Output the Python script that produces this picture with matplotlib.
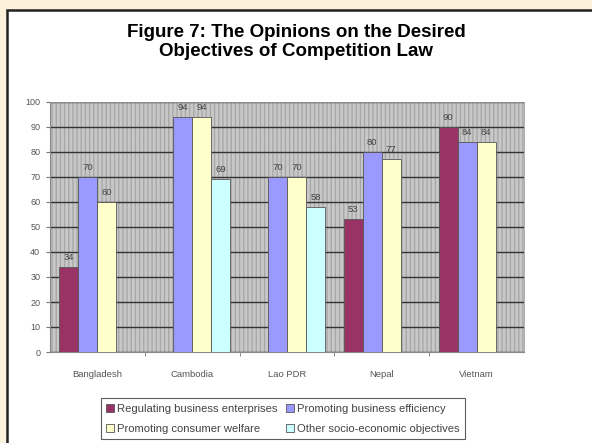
import matplotlib.pyplot as plt
import matplotlib.patches as mpatches
import numpy as np

plt.rcParams['font.family'] = ['Liberation Sans', 'DejaVu Sans']

countries = ['Bangladesh', 'Cambodia', 'Lao PDR', 'Nepal', 'Vietnam']
series_names = ['Regulating business enterprises', 'Promoting business efficiency',
                'Promoting consumer welfare', 'Other socio-economic objectives']
regulating = [34, None, None, 53, 90]
efficiency = [70, 94, 70, 80, 84]
welfare = [60, 94, 70, 77, 84]
other = [None, 69, 58, None, None]
colors = ['#993366', '#9999FF', '#FFFFCC', '#CCFFFF']

fig = plt.figure(figsize=(5.92, 4.43), dpi=100)
fig.patch.set_facecolor('#FEF1DC')

# white panel with dark border on top and left
panel = mpatches.Rectangle((7 / 592, -0.01), 1, 1.01 - 10 / 443, transform=fig.transFigure,
                           facecolor='white', edgecolor='#222222', linewidth=1.8, zorder=-5)
fig.patches.append(panel)

fig.text(0.50, 0.905, 'Figure 7: The Opinions on the Desired\nObjectives of Competition Law',
         ha='center', va='center', fontsize=13.5, fontweight='bold', linespacing=1.1)

ax = fig.add_axes([50 / 592, 1 - 352 / 443, 474 / 592, 250 / 443])
ax.set_zorder(2)
ax.set_facecolor('#C0C0C0')
bg = mpatches.Rectangle((0, 0), 1, 1, transform=ax.transAxes, facecolor='#C8C8C8',
                        edgecolor='#A8A8A8', hatch='||||', linewidth=0, zorder=0)
ax.add_patch(bg)

x = np.arange(len(countries))
width = 0.2
offsets = [-0.3, -0.1, 0.1, 0.3]
for vals, off, col in zip([regulating, efficiency, welfare, other], offsets, colors):
    for xi, v in zip(x, vals):
        if v is None:
            continue
        ax.bar(xi + off, v, width, color=col, edgecolor='#555555', linewidth=0.6, zorder=3)
        ax.text(xi + off, v + 2, str(v), ha='center', va='bottom', fontsize=6.8,
                color='#444444', zorder=4)

ax.set_xlim(-0.5, len(countries) - 0.5)
ax.set_ylim(0, 100)
ax.set_yticks(range(0, 101, 10))
ax.yaxis.grid(True, color='#333333', linewidth=1.0, zorder=1)
ax.set_axisbelow(True)
ax.tick_params(axis='y', labelsize=6.5, labelcolor='#555555', length=3, color='#777777', pad=4)

ax.set_xticks(x)
ax.set_xticklabels(countries)
ax.set_xticks(np.arange(0.5, len(countries) - 0.5, 1), minor=True)
ax.tick_params(axis='x', which='major', length=0, labelsize=6.8, labelcolor='#555555', pad=13)
ax.tick_params(axis='x', which='minor', length=3, color='#777777')

for s in ['top', 'right']:
    ax.spines[s].set_color('#A0A0A0')
    ax.spines[s].set_linewidth(0.6)
for s in ['left', 'bottom']:
    ax.spines[s].set_color('#888888')
    ax.spines[s].set_linewidth(0.8)

# legend is filled column-wise, so order handles to match the reference rows
order = [0, 2, 1, 3]
handles = [mpatches.Patch(facecolor=colors[i], edgecolor='#555555', linewidth=0.6) for i in order]
labels = [series_names[i] for i in order]
leg = fig.legend(handles, labels, loc='center', bbox_to_anchor=(0.478, 0.055),
                 ncol=2, fontsize=8.1, frameon=True, fancybox=False, handlelength=0.7,
                 handleheight=0.7, handletextpad=0.3, columnspacing=0.7, borderpad=0.5,
                 labelspacing=0.9, edgecolor='#333333')
leg.get_frame().set_linewidth(0.8)
leg.set_zorder(3)
for t in leg.get_texts():
    t.set_color('#444444')

fig.savefig('out.png', dpi=100, facecolor=fig.get_facecolor())
